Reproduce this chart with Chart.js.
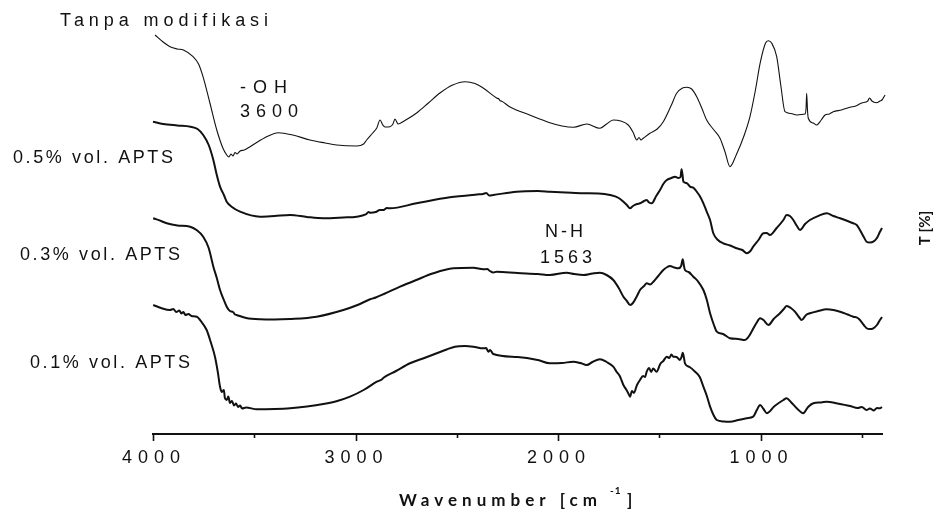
<!DOCTYPE html>
<html>
<head>
<meta charset="utf-8">
<script src="https://cdn.jsdelivr.net/npm/chart.js@4.4.1/dist/chart.umd.min.js"></script>
<style>
  html, body { margin: 0; padding: 0; background: #ffffff; }
  #wrap { width: 941px; height: 513px; position: relative; }
</style>
</head>
<body>
<div id="wrap"><canvas id="ftir" width="941" height="513"></canvas></div>
<script>
// FTIR spectra, stacked with vertical offsets: [wavenumber cm^-1, T (offset units)]
const seriesNames = ['Tanpa modifikasi', '0.5% vol. APTS', '0.3% vol. APTS', '0.1% vol. APTS'];

const untreated = [
  [3990,99.75],[3950,98],[3916,96.83],[3880,96.25],[3850,96],[3802,94.33],[3775,92.5],[3753,89.33],
  [3719,82.75],[3685,76],[3655,71.5],[3636,69.75],[3625,69.25],[3615,70],[3605,69.5],[3595,70.38],
  [3585,70],[3570,70.75],[3550,71],[3521,71.83],[3450,74],[3381,75.33],[3309,74.75],[3225,73.5],
  [3150,72.75],[3093,72.25],[2994,72],[2960,72.5],[2945,73.5],[2915,75.25],[2895,76.5],[2879,78.5],
  [2865,77.25],[2854,76.75],[2830,76.83],[2815,77.5],[2805,78.75],[2790,77.5],[2760,78.25],[2698,80.25],
  [2640,82.75],[2583,85.25],[2520,87.25],[2459,88.08],[2410,87.63],[2370,86.5],[2303,84],[2292,83.75],
  [2286,83.33],[2280,83.25],[2237,81.75],[2140,79.75],[2040,77.83],[1980,77],[1924,76.68],[1858,77.5],
  [1793,76.43],[1760,77.5],[1727,78.5],[1690,78.25],[1653,77.25],[1630,75.5],[1611,73.5],[1600,74.13],
  [1590,73.5],[1579,73.93],[1546,75.18],[1510,76.25],[1480,78.08],[1440,82.25],[1414,85.18],[1385,86.5],
  [1364,86.68],[1340,86.25],[1315,84.33],[1290,81.5],[1266,78.5],[1230,76],[1200,73.93],[1175,70.5],
  [1151,66.83],[1120,69.75],[1080,74.75],[1052,79.33],[1025,86],[1002,92.68],[975,97.75],[961,98.33],
  [945,97.75],[920,94.33],[900,87.25],[879,80.58],[850,80.13],[821,79.75],[800,79.88],[780,80],
  [775,81.5],[772,85.18],[768,81],[764,78.93],[740,77.75],[723,77.25],[700,78.5],[681,79.75],
  [660,80],[641,80.58],[600,81],[558,81.68],[530,82],[500,82.75],[470,83.25],[462,84],
  [459,83.93],[450,83.25],[426,82.83],[410,83.25],[400,83.5],[385,84.75]
];

const apts05 = [
  [4000,78.08],[3950,77.5],[3880,77.13],[3815,76.83],[3780,76.25],[3752,74.75],[3725,72.25],[3702,68.5],
  [3685,64.75],[3669,61.83],[3650,59.75],[3636,58.08],[3610,56.75],[3570,55.58],[3472,54.33],[3400,54.5],
  [3323,54.75],[3240,54.25],[3159,53.93],[3060,54.13],[2994,54.33],[2950,54.88],[2935,55.5],[2928,55.33],
  [2900,55.5],[2880,56],[2862,56],[2845,56.5],[2830,56.43],[2699,57.68],[2534,59.18],[2400,59.88],
  [2370,60],[2354,60.25],[2340,59.63],[2320,59.75],[2205,60.58],[2100,60.75],[2040,60.58],[1960,60.38],
  [1875,60.18],[1800,60.13],[1743,59.75],[1700,59],[1677,58.08],[1660,57.25],[1644,56.43],[1630,57],
  [1610,57.5],[1595,57.68],[1575,58.25],[1562,58.5],[1550,57.88],[1537,57.68],[1515,59.5],[1496,61],
  [1480,62.5],[1463,63.5],[1440,64],[1422,64.33],[1405,64],[1395,64.25],[1390,66.18],[1385,64.75],
  [1381,63.08],[1365,62.75],[1348,61.83],[1330,61.5],[1315,60.58],[1300,59.5],[1282,57.68],[1265,55.5],
  [1249,53.5],[1233,50.18],[1210,48.5],[1184,47.68],[1150,47.13],[1118,46.43],[1090,46],[1068,45.18],
  [1050,45.75],[1036,46.83],[1010,48.5],[986,50.18],[970,50.25],[953,49.75],[920,51.5],[887,53.5],
  [871,54.75],[855,54.5],[838,53.5],[820,52],[805,51],[780,52.5],[756,53.5],[715,54.5],
  [673,55.18],[640,54.5],[607,53.93],[570,53.25],[542,52.68],[525,52.25],[509,51],[490,49.25],
  [476,48.08],[460,47.88],[443,48.08],[425,49],[410,50.58],[400,51.5]
];

const apts03 = [
  [3999,53.93],[3960,53.25],[3932,52.68],[3880,52.13],[3817,51.83],[3785,51],[3752,49.33],[3725,46.5],
  [3702,41.83],[3685,39],[3669,36],[3650,33.5],[3636,31.83],[3620,30.75],[3605,30.5],[3595,29.88],
  [3587,29.75],[3540,29],[3472,28.68],[3400,28.63],[3323,28.75],[3192,29.33],[3060,31],[2990,32.25],
  [2928,33.68],[2900,34.13],[2860,35],[2780,36.83],[2700,38.5],[2616,40.18],[2517,41.43],[2418,41.58],
  [2369,41.18],[2350,41.25],[2336,40.75],[2320,40.38],[2303,40.58],[2200,40.25],[2100,40],[2040,39.75],
  [1957,40.33],[1920,40],[1875,39.75],[1830,40.13],[1793,40.33],[1760,39.75],[1727,38.5],[1700,36.5],
  [1677,34.33],[1660,33.25],[1644,32.25],[1630,32.75],[1610,34.5],[1595,36],[1575,37],[1562,37.68],
  [1545,37.38],[1529,38.08],[1505,39.5],[1480,41],[1460,41.75],[1447,42],[1425,41.63],[1406,41.43],
  [1392,42],[1384,43.68],[1378,42],[1373,41],[1355,40.5],[1332,39.33],[1310,38.25],[1282,36],
  [1265,33.5],[1249,30.18],[1230,27.25],[1216,25.58],[1185,25],[1151,23.93],[1110,23.75],[1077,23.5],
  [1060,24.25],[1044,25.58],[1020,27.75],[1002,28.93],[985,28.5],[961,27.25],[935,28.75],[904,30.18],
  [885,31.25],[871,32],[850,31.5],[830,30.58],[810,29.25],[797,28.5],[775,29.75],[756,30.18],
  [715,30.75],[673,31.18],[640,31],[607,30.58],[570,29.88],[542,29.33],[520,29],[509,28.5],
  [490,27.25],[476,26.43],[460,26.25],[443,26.43],[425,27.25],[410,28.5],[400,29.25]
];

const apts01 = [
  [3999,32.25],[3960,31.5],[3916,31],[3900,31.25],[3885,30.5],[3870,30.88],[3860,30.13],[3850,30.5],
  [3840,29.75],[3825,30],[3810,29.5],[3784,29.33],[3760,28],[3735,26],[3715,23],[3694,19.33],
  [3680,15.5],[3669,11.83],[3660,10.5],[3650,11],[3645,9],[3636,8.5],[3628,9.38],[3620,7.75],
  [3610,8.25],[3600,7.13],[3590,7.63],[3580,6.75],[3570,7.13],[3560,6.38],[3540,6.63],[3488,6.18],
  [3400,6.25],[3323,6.43],[3240,6.88],[3159,7.5],[3090,8.25],[3027,9.33],[2960,11],[2895,13.08],
  [2870,13.63],[2860,14.13],[2800,15.75],[2731,17.68],[2660,19],[2599,20.18],[2550,21.13],[2509,21.83],
  [2460,22],[2418,21.83],[2369,21.43],[2355,21.5],[2344,20.58],[2335,21],[2320,20],[2200,19.25],
  [2100,18.5],[2040,17.68],[1980,17.75],[1924,18.08],[1890,17.75],[1858,17.25],[1830,18],[1793,18.68],
  [1760,18],[1727,16.83],[1710,15.5],[1695,14.5],[1685,13.25],[1677,12.25],[1665,11.25],[1655,10.38],
  [1644,9.33],[1635,10.75],[1625,10.25],[1610,12.25],[1595,13.5],[1580,14.5],[1570,14.25],[1562,15.58],
  [1550,16.5],[1540,15.5],[1530,16.38],[1513,15.58],[1495,17.5],[1480,18.25],[1463,19.33],[1450,19],
  [1440,19.88],[1431,19.33],[1415,19.25],[1398,18.5],[1390,19.25],[1384,20.33],[1378,19],[1373,17.68],
  [1350,16.75],[1323,15.58],[1300,14.25],[1282,11.83],[1265,9.5],[1249,6.83],[1232,4.75],[1216,3.5],
  [1180,3.13],[1151,3.08],[1110,3.5],[1068,3.93],[1036,4.33],[1018,6],[1002,7.25],[985,6.25],
  [969,5.18],[930,7],[887,8.5],[871,8.93],[850,8],[821,6.43],[789,5.18],[765,6.75],
  [739,7.68],[700,7.88],[673,8.08],[620,7.63],[558,7],[520,6.5],[500,6.75],[476,6],
  [460,6.38],[440,5.88],[425,6.5],[410,6.43],[400,6.75]
];

// Axis ticks: labelled every 1000, unlabelled in between
const majorTicks = [4000, 3000, 2000, 1000];
const minorTicks = [3500, 2500, 1500, 500];
const xTitle = 'Wavenumber [cm';
const xTitleSup = '-1';
const yTitle = 'T [%]';

// Band assignments written on the plot
const bandNotes = [['-OH', '3600'], ['N-H', '1563']];

const FONT = "'Liberation Sans', Arial, sans-serif";
const TITLE_FONT = "Lato, 'Liberation Sans', sans-serif";

const toPoints = arr => arr.map(p => ({ x: p[0], y: p[1] }));
const spectra = [untreated, apts05, apts03, apts01];
const lineWidths = [1.1, 2, 2, 2];

// Text justified to a given span (the spaced-out lettering of the figure)
function spacedText(ctx, text, x, y, font, span) {
  ctx.save();
  ctx.font = font;
  ctx.letterSpacing = '0px';
  const natural = ctx.measureText(text).width;
  const gap = text.length > 1 ? (span - natural) / (text.length - 1) : 0;
  ctx.letterSpacing = gap.toFixed(2) + 'px';
  ctx.textAlign = 'left';
  ctx.textBaseline = 'alphabetic';
  ctx.fillStyle = '#111';
  ctx.fillText(text, x, y);
  ctx.restore();
}

const decorations = {
  id: 'decorations',
  beforeDraw(chart) {
    chart.ctx.letterSpacing = '6px';
  },
  beforeDatasetsDraw(chart) {
    chart.ctx.letterSpacing = '0px';
  },
  afterDraw(chart) {
    const ctx = chart.ctx;
    const xs = chart.scales.x;
    const axisY = chart.chartArea.bottom;

    // tick marks below the axis line
    ctx.save();
    ctx.strokeStyle = '#111';
    ctx.lineWidth = 1.6;
    majorTicks.concat(minorTicks).forEach(v => {
      const px = Math.round(xs.getPixelForValue(v)) + 0.5;
      const len = majorTicks.includes(v) ? 7 : 4;
      ctx.beginPath();
      ctx.moveTo(px, axisY);
      ctx.lineTo(px, axisY + len);
      ctx.stroke();
    });
    ctx.restore();

    const f18 = '18px ' + FONT;
    // series names
    spacedText(ctx, seriesNames[0], 60, 26, f18, 208);
    spacedText(ctx, seriesNames[1], 13, 163, f18, 160);
    spacedText(ctx, seriesNames[2], 20, 260, f18, 160);
    spacedText(ctx, seriesNames[3], 30, 368, f18, 160);

    // band notes
    spacedText(ctx, bandNotes[0][0], 240, 93, f18, 47);
    spacedText(ctx, bandNotes[0][1], 240, 117, f18, 58);
    spacedText(ctx, bandNotes[1][0], 545, 237, f18, 38);
    spacedText(ctx, bandNotes[1][1], 540, 263, f18, 52);

    // x axis title with superscript
    const bold = 'bold 17px ' + TITLE_FONT;
    spacedText(ctx, xTitle, 399, 506, bold, 198);
    ctx.save();
    ctx.fillStyle = '#111';
    ctx.font = 'bold 10px ' + TITLE_FONT;
    ctx.letterSpacing = '1px';
    ctx.fillText(xTitleSup, 610, 494);
    ctx.font = bold;
    ctx.letterSpacing = '0px';
    ctx.fillText(']', 627, 506);
    ctx.restore();

    // y axis title, rotated
    ctx.save();
    ctx.translate(925, 228);
    ctx.rotate(-Math.PI / 2);
    ctx.font = 'bold 15px ' + TITLE_FONT;
    ctx.fillStyle = '#111';
    ctx.textAlign = 'center';
    ctx.textBaseline = 'middle';
    ctx.fillText(yTitle, 0, 0);
    ctx.restore();
  }
};

new Chart(document.getElementById('ftir'), {
  type: 'line',
  data: {
    datasets: spectra.map((s, i) => ({
      label: seriesNames[i],
      data: toPoints(s),
      borderColor: '#111',
      borderWidth: lineWidths[i],
      pointRadius: 0,
      fill: false,
      cubicInterpolationMode: 'monotone',
      clip: false
    }))
  },
  options: {
    responsive: false,
    animation: false,
    devicePixelRatio: 1,
    layout: { padding: { left: 153, right: 59, top: 34, bottom: 0 } },
    plugins: { legend: { display: false }, tooltip: { enabled: false } },
    scales: {
      x: {
        type: 'linear',
        reverse: true,
        min: 400,
        max: 4000,
        position: 'bottom',
        afterBuildTicks: scale => {
          scale.ticks = majorTicks.concat(minorTicks).sort((a, b) => b - a).map(v => ({ value: v }));
        },
        afterFit: scale => { scale.height = 79; },
        grid: { display: false, drawTicks: false },
        border: { display: true, color: '#111', width: 2 },
        ticks: {
          autoSkip: false,
          maxRotation: 0,
          padding: 13,
          labelOffset: 1,
          color: '#111',
          font: { family: FONT, size: 18 },
          callback: v => majorTicks.includes(v) ? String(v) : ''
        }
      },
      y: { display: false, min: 0, max: 100 }
    }
  },
  plugins: [decorations]
});
</script>
</body>
</html>
